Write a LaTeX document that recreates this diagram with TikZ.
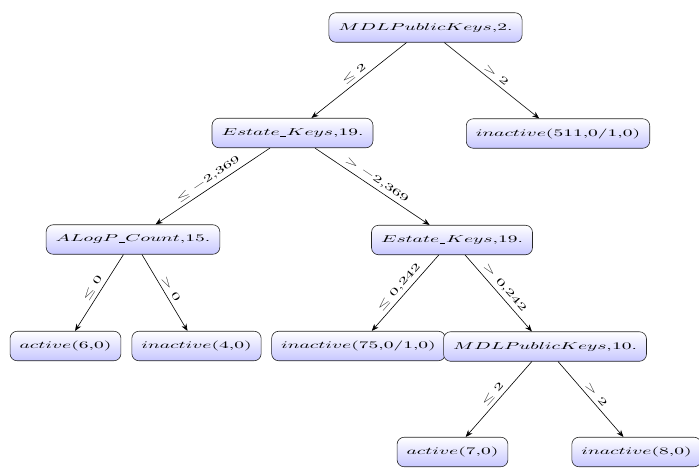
\documentclass[tikz,border=0pt]{standalone}
\usepackage{graphicx}
\usetikzlibrary{arrows.meta}
\newcommand{\bt}[1]{\scalebox{1.95}[1]{$#1$}}
\newcommand{\lt}[1]{\scalebox{1.8}[1]{$#1$}}
\newcommand{\us}{\mathord{\kern0.4pt\rule[-0.6pt]{2.8pt}{0.45pt}\kern0.4pt}}
\tikzset{
  treebox/.style={draw=black!85, line width=0.6pt, rounded corners=7pt,
    top color=white, bottom color=blue!22, inner xsep=9.5pt, inner ysep=0pt,
    minimum height=29.5pt},
  conn/.style={line width=0.6pt, -{Stealth[length=7pt,width=5.5pt]}},
  elabel/.style={sloped, above, pos=0.5, inner sep=3.5pt}
}
\begin{document}
\begin{tikzpicture}[x=1pt, y=-1pt]
\useasboundingbox (0,0) rectangle (699,467);
\node[treebox] (r) at (425.5,27.5) {\bt{MDLPublicKeys{,}2.}};
\node[treebox] (e1) at (292.5,133) {\bt{Estate\us Keys{,}19.}};
\node[treebox] (i1) at (558,133.5) {\bt{inactive(511{,}0/1{,}0)}};
\node[treebox] (a1) at (133,239.5) {\bt{ALogP\us Count{,}15.}};
\node[treebox] (e2) at (452,240) {\bt{Estate\us Keys{,}19.}};
\node[treebox] (l1) at (65.5,346) {\bt{active(6{,}0)}};
\node[treebox] (l2) at (196.5,346) {\bt{inactive(4{,}0)}};
\node[treebox] (l3) at (358.5,346) {\bt{inactive(75{,}0/1{,}0)}};
\node[treebox] (m2) at (545,346.5) {\bt{MDLPublicKeys{,}10.}};
\node[treebox] (l4) at (452.5,452) {\bt{active(7{,}0)}};
\node[treebox] (l5) at (636.5,452) {\bt{inactive(8{,}0)}};

\draw[conn] (r) -- node[elabel] {\lt{\leq 2}} (e1);
\draw[conn] (r) -- node[elabel] {\lt{> 2}} (i1);
\draw[conn] (e1) -- node[elabel] {\lt{\leq -2{,}369}} (a1);
\draw[conn] (e1) -- node[elabel] {\lt{> -2{,}369}} (e2);
\draw[conn] (a1) -- node[elabel] {\lt{\leq 0}} (l1);
\draw[conn] (a1) -- node[elabel] {\lt{> 0}} (l2);
\draw[conn] (e2) -- node[elabel] {\lt{\leq 0{,}242}} (l3);
\draw[conn] (e2) -- node[elabel] {\lt{> 0{,}242}} (m2);
\draw[conn] (m2) -- node[elabel] {\lt{\leq 2}} (l4);
\draw[conn] (m2) -- node[elabel] {\lt{> 2}} (l5);
\end{tikzpicture}
\end{document}
